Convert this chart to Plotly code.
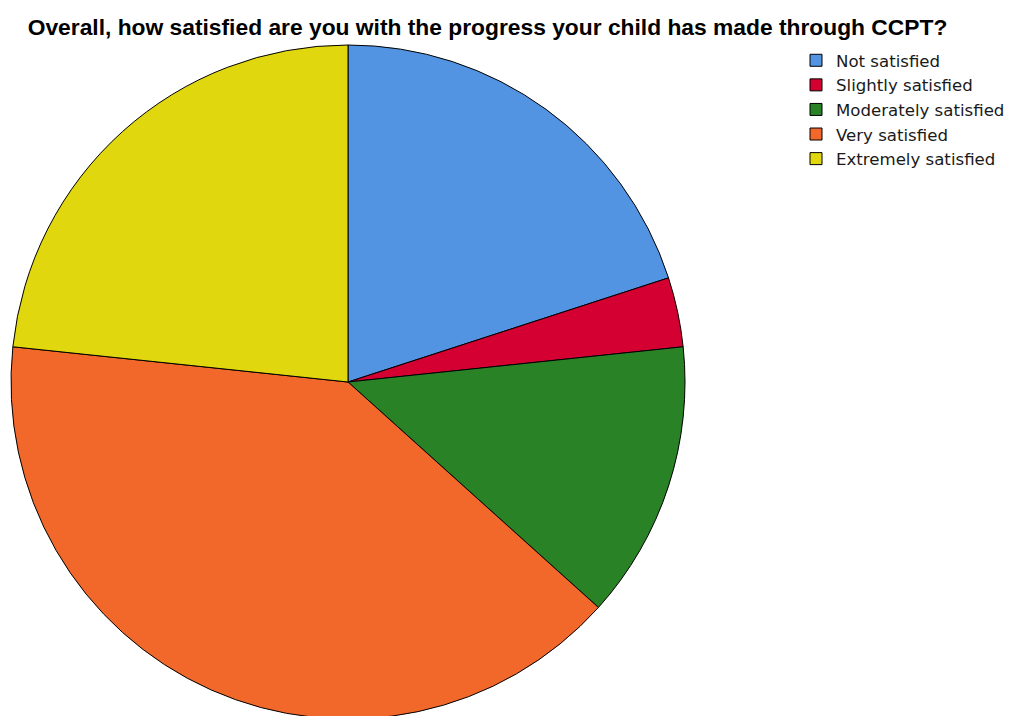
import plotly.graph_objects as go

categories = ["Not satisfied", "Slightly satisfied", "Moderately satisfied", "Very satisfied", "Extremely satisfied"]
counts = [6, 1, 4, 12, 7]
colors = ["#5294E2", "#D50032", "#298226", "#F2672A", "#E1D70F"]

W, H = 1014, 716
# page body adds an 8px offset; positions below are in figure (paper) pixels
cx, cy, r = 340, 374, 337

fig = go.Figure(go.Pie(
    labels=categories,
    values=counts,
    sort=False,
    direction="clockwise",
    rotation=0,
    textinfo="none",
    hoverinfo="label+value+percent",
    marker=dict(colors=colors, line=dict(color="#000000", width=1)),
    domain=dict(x=[(cx - r) / W, (cx + r) / W],
                y=[(H - cy - r) / H, (H - cy + r) / H]),
))

fig.update_layout(
    width=W, height=H,
    margin=dict(l=0, r=0, t=0, b=0),
    paper_bgcolor="white",
    plot_bgcolor="white",
    font=dict(family="Liberation Sans, Arial, sans-serif"),
    title=dict(
        text="<b>Overall, how satisfied are you with the progress your child has made through CCPT?</b>",
        x=479.5 / W, xanchor="center", xref="paper",
        y=1 - 19 / H, yanchor="middle", yref="container",
        font=dict(size=22.8, color="#000000", family="Liberation Sans, Arial, sans-serif"),
    ),
    legend=dict(
        x=788 / W, y=1 - 35 / H, xanchor="left", yanchor="top",
        font=dict(size=16.6, color="#1a1a1a", family="DejaVu Sans, sans-serif"),
        bgcolor="rgba(0,0,0,0)",
        itemclick=False,
    ),
)

fig.write_html("out.html")
